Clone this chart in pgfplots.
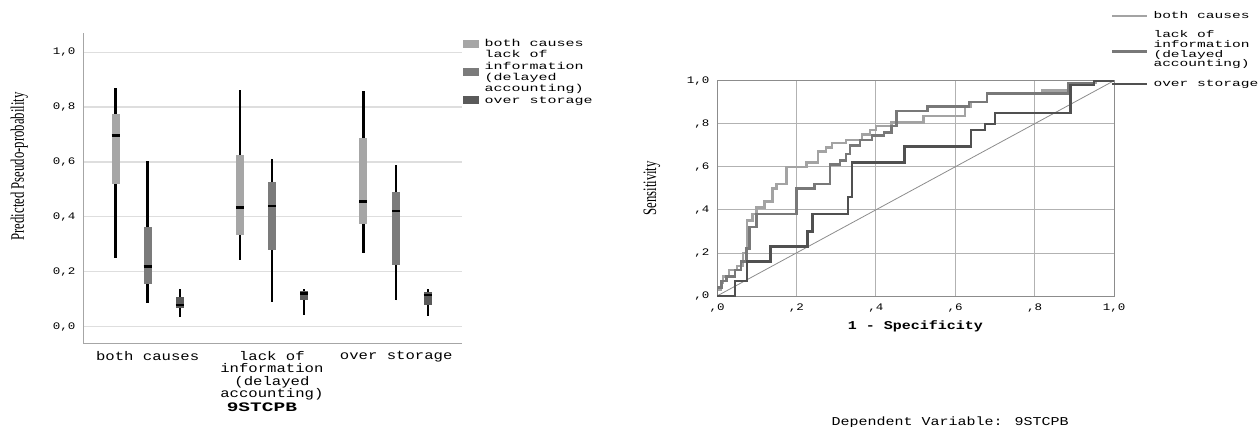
\documentclass[border=0pt]{standalone}
\usepackage{fontspec}
\setmainfont{Liberation Serif}
\newfontfamily\monoA[FakeStretch=1.25]{Liberation Mono}
\newfontfamily\monoB[FakeStretch=1.5]{Liberation Mono}
\newfontfamily\cond[FakeStretch=0.67]{Liberation Serif}
\usepackage{pgfplots}
\usepgfplotslibrary{statistics}
\pgfplotsset{compat=1.18}
\definecolor{lightc}{HTML}{A6A6A6}
\definecolor{midc}{HTML}{7B7B7B}
\definecolor{darkc}{HTML}{5A5A5A}
\definecolor{rlight}{HTML}{A3A3A3}
\definecolor{rmid}{HTML}{787878}
\definecolor{rdark}{HTML}{505050}
\newcommand\LE[1]{\begin{tabular}{@{}l@{}}#1\end{tabular}}
\begin{document}
\begin{tikzpicture}
\useasboundingbox (0,0) rectangle (1258pt,426pt);
\begin{axis}[
  at={(83pt,83pt)}, anchor=south west, scale only axis,
  width=379pt, height=310pt,
  xmin=-0.52, xmax=2.53, ymin=-0.06, ymax=1.07,
  axis x line*=bottom, axis y line*=left,
  axis line style={draw=black!35, line width=0.8pt, -},
  ytick={0,0.2,0.4,0.6,0.8,1.0},
  yticklabels={{0,0},{0,2},{0,4},{0,6},{0,8},{1,0}},
  xtick={0,1,2},
  xticklabels={both causes,{lack of\\information\\(delayed\\accounting)},over storage},
  major tick length=0pt,
  ymajorgrids, grid style={black!13, line width=1.2pt},
  yticklabel style={font=\monoA\fontsize{10pt}{10pt}\selectfont, xshift=-4pt},
  xticklabel style={font=\monoA\fontsize{12.5pt}{12.3pt}\selectfont, align=center, yshift=-5pt},
  xlabel={9STCPB},
  xlabel style={font=\monoB\bfseries\fontsize{13pt}{13pt}\selectfont, at={(axis description cs:0.472,-0.207)}, anchor=center},
  ylabel={Predicted Pseudo-probability},
  ylabel style={font=\cond\fontsize{19pt}{19pt}\selectfont, at={(axis description cs:-0.168,0.57)}, anchor=center},
  legend style={at={(axis description cs:1.003,0.982)}, anchor=north west, draw=none, fill=none, inner sep=0pt, column sep=6pt, row sep=1.7pt, nodes={inner sep=0pt, font=\monoB\fontsize{10pt}{11.2pt}\selectfont}},
  legend cell align=left,
  boxplot/draw direction=y,
  boxplot/every box/.style={draw=none},
  boxplot/every whisker/.style={draw=black, line width=2.6pt},
  boxplot/every median/.style={draw=black, line width=2.6pt},
  boxplot/whisker extend=0,
  boxplot/box extend=0.064,
]
\addlegendimage{legend image code/.code={\fill[lightc] (0pt,-3.5pt) rectangle (15pt,3.5pt);}}
\addlegendentry{\LE{both causes}}
\addlegendimage{empty legend}
\addlegendentry{\LE{lack of}}
\addlegendimage{legend image code/.code={\fill[midc, overlay] (0pt,-9.1pt) rectangle (15pt,-2.1pt);}}
\addlegendentry{\LE{information}}
\addlegendimage{empty legend}
\addlegendentry{\LE{(delayed}}
\addlegendimage{empty legend}
\addlegendentry{\LE{accounting)}}
\addlegendimage{legend image code/.code={\fill[darkc] (0pt,-3.5pt) rectangle (15pt,3.5pt);}}
\addlegendentry{\LE{over storage}}
% both causes
\addplot[forget plot, fill=lightc, draw=none, boxplot prepared={draw position=-0.258, lower whisker=0.251, lower quartile=0.521, median=0.697, upper quartile=0.776, upper whisker=0.869}] coordinates {};
\addplot[forget plot, fill=midc, draw=none, boxplot prepared={draw position=0, lower whisker=0.087, lower quartile=0.155, median=0.218, upper quartile=0.364, upper whisker=0.603}] coordinates {};
\addplot[forget plot, fill=darkc, draw=none, boxplot prepared={draw position=0.26, lower whisker=0.036, lower quartile=0.067, median=0.079, upper quartile=0.109, upper whisker=0.137}] coordinates {};
% lack of information
\addplot[forget plot, fill=lightc, draw=none, boxplot prepared={draw position=0.742, lower whisker=0.243, lower quartile=0.333, median=0.434, upper quartile=0.624, upper whisker=0.861}] coordinates {};
\addplot[forget plot, fill=midc, draw=none, boxplot prepared={draw position=1, lower whisker=0.091, lower quartile=0.279, median=0.439, upper quartile=0.527, upper whisker=0.612}] coordinates {};
\addplot[forget plot, fill=darkc, draw=none, boxplot prepared={draw position=1.26, lower whisker=0.043, lower quartile=0.095, median=0.121, upper quartile=0.130, upper whisker=0.136}] coordinates {};
% over storage
\addplot[forget plot, fill=lightc, draw=none, boxplot prepared={draw position=1.735, lower whisker=0.267, lower quartile=0.372, median=0.455, upper quartile=0.687, upper whisker=0.858}] coordinates {};
\addplot[forget plot, fill=midc, draw=none, boxplot prepared={draw position=2, lower whisker=0.095, lower quartile=0.224, median=0.421, upper quartile=0.491, upper whisker=0.588}] coordinates {};
\addplot[forget plot, fill=darkc, draw=none, boxplot prepared={draw position=2.255, lower whisker=0.040, lower quartile=0.079, median=0.115, upper quartile=0.127, upper whisker=0.137}] coordinates {};
\end{axis}

\begin{axis}[
  at={(717pt,130pt)}, anchor=south west, scale only axis,
  width=397pt, height=215.3pt,
  xmin=0, xmax=1, ymin=0, ymax=1,
  xtick={0,0.2,0.4,0.6,0.8,1}, ytick={0,0.2,0.4,0.6,0.8,1},
  xticklabels={{,0},{,2},{,4},{,6},{,8},{1,0}},
  yticklabels={{,0},{,2},{,4},{,6},{,8},{1,0}},
  major tick length=0pt,
  grid=major, grid style={black!30, line width=0.8pt},
  axis line style={black!45, line width=0.8pt},
  tick label style={font=\monoA\fontsize{10pt}{10pt}\selectfont},
  yticklabel style={xshift=-4pt}, xticklabel style={yshift=-4pt},
  xlabel={1 - Specificity},
  xlabel style={font=\monoA\bfseries\fontsize{12pt}{12pt}\selectfont, at={(axis description cs:0.5,-0.143)}, anchor=center},
  ylabel={Sensitivity},
  ylabel style={font=\cond\fontsize{19pt}{19pt}\selectfont, at={(axis description cs:-0.164,0.5)}, anchor=center},
  title={Dependent Variable: 9STCPB},
  title style={font=\monoA\fontsize{12pt}{12pt}\selectfont, at={(axis description cs:0.587,-0.617)}, anchor=center},
  legend style={at={(axis description cs:0.992,1.323)}, anchor=north west, draw=none, fill=none, inner sep=0pt, column sep=5pt, row sep=0.7pt, nodes={inner sep=0pt, font=\monoB\fontsize{9.7pt}{10pt}\selectfont}},
  legend cell align=left,
]
\addplot[forget plot, black!45, line width=0.8pt] coordinates {(0,0) (1,1)};
\addplot[forget plot, rlight, line width=2.5pt] coordinates {
(0,0) (0,0.03) (0.01,0.03) (0.01,0.06) (0.015,0.06) (0.015,0.09) (0.03,0.09) (0.03,0.12)
(0.05,0.12) (0.05,0.14) (0.065,0.14) (0.065,0.2) (0.075,0.2) (0.075,0.35) (0.09,0.35) (0.09,0.38)
(0.1,0.38) (0.1,0.41) (0.12,0.41) (0.12,0.44) (0.14,0.44) (0.14,0.5) (0.15,0.5) (0.15,0.52)
(0.175,0.52) (0.175,0.60) (0.225,0.60) (0.225,0.62) (0.255,0.62) (0.255,0.67) (0.275,0.67) (0.275,0.69)
(0.29,0.69) (0.29,0.71) (0.325,0.71) (0.325,0.725) (0.365,0.725) (0.365,0.75) (0.385,0.75) (0.385,0.77)
(0.4,0.77) (0.4,0.79) (0.44,0.79) (0.44,0.805) (0.52,0.805) (0.52,0.835) (0.625,0.835) (0.625,0.88)
(0.64,0.88) (0.64,0.90) (0.68,0.90) (0.68,0.94) (0.82,0.94) (0.82,0.955) (0.89,0.955) (0.89,0.99)
(0.955,0.99) (0.955,1) (1,1)};
\addplot[forget plot, rmid, line width=2.5pt] coordinates {
(0,0) (0,0.04) (0.011,0.04) (0.011,0.07) (0.024,0.07) (0.024,0.09) (0.045,0.09) (0.045,0.12)
(0.061,0.12) (0.061,0.16) (0.074,0.16) (0.074,0.22) (0.082,0.22) (0.082,0.32) (0.1,0.32) (0.1,0.38)
(0.2,0.38) (0.2,0.5) (0.245,0.5) (0.245,0.52) (0.285,0.52) (0.285,0.61) (0.31,0.61) (0.31,0.63)
(0.325,0.63) (0.325,0.66) (0.335,0.66) (0.335,0.70) (0.36,0.70) (0.36,0.725) (0.39,0.725) (0.39,0.745)
(0.42,0.745) (0.42,0.76) (0.44,0.76) (0.44,0.79) (0.452,0.79) (0.452,0.86) (0.53,0.86) (0.53,0.88)
(0.635,0.88) (0.635,0.90) (0.68,0.90) (0.68,0.94) (0.885,0.94) (0.885,0.99) (0.95,0.99) (0.95,1) (1,1)};
\addplot[forget plot, rdark, line width=2.5pt] coordinates {
(0,0) (0.045,0) (0.045,0.07) (0.075,0.07) (0.075,0.16) (0.135,0.16) (0.135,0.23) (0.228,0.23)
(0.228,0.30) (0.24,0.30) (0.24,0.38) (0.33,0.38) (0.33,0.46) (0.34,0.46) (0.34,0.62) (0.472,0.62)
(0.472,0.695) (0.64,0.695) (0.64,0.77) (0.675,0.77) (0.675,0.80) (0.70,0.80) (0.70,0.85) (0.89,0.85)
(0.89,0.98) (0.95,0.98) (0.95,1) (1,1)};
\addlegendimage{legend image code/.code={\draw[rlight, line width=2.5pt] (0pt,0pt) -- (35pt,0pt);}}
\addlegendentry{\LE{both causes}}
\addlegendimage{empty legend}
\addlegendentry{\LE{\phantom{Ag}}}
\addlegendimage{empty legend}
\addlegendentry{\LE{lack of}}
\addlegendimage{legend image code/.code={\draw[rmid, line width=2.5pt, overlay] (0pt,-6.3pt) -- (35pt,-6.3pt);}}
\addlegendentry{\LE{information}}
\addlegendimage{empty legend}
\addlegendentry{\LE{(delayed}}
\addlegendimage{empty legend}
\addlegendentry{\LE{accounting)}}
\addlegendimage{empty legend}
\addlegendentry{\LE{\phantom{Ag}}}
\addlegendimage{legend image code/.code={\draw[rdark, line width=2.5pt] (0pt,0pt) -- (35pt,0pt);}}
\addlegendentry{\LE{over storage}}
\end{axis}
\end{tikzpicture}
\end{document}
